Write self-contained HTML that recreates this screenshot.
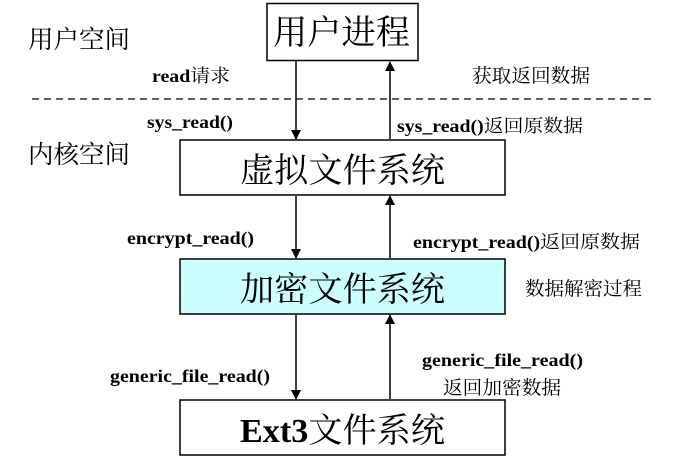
<!DOCTYPE html>
<html><head><meta charset="utf-8"><style>
html,body{margin:0;padding:0;background:#fff;}
svg{display:block;}
text{font-family:"Liberation Serif","Noto Serif CJK SC",serif;fill:#000;}
.s{font-size:18px;font-weight:bold;}
.c{font-size:19px;}
.big{font-size:34px;}
.sp{font-size:25px;}
</style></head><body>
<svg width="695" height="460" viewBox="0 0 695 460">
<defs><marker id="a" markerWidth="10" markerHeight="16" refX="9" refY="5" orient="auto" markerUnits="userSpaceOnUse"><path d="M0,0 L14,5 L0,10 z" transform="scale(0.7,1)" fill="#000"/></marker></defs>
<line x1="32" y1="99" x2="652" y2="99" stroke="#000" stroke-width="1.2" stroke-dasharray="7,5"/>
<rect x="267" y="3.5" width="151" height="57" fill="#fff" stroke="#000" stroke-width="1.5"/>
<rect x="180" y="140" width="325" height="55" fill="#fff" stroke="#000" stroke-width="1.5"/>
<rect x="180" y="259" width="325" height="55" fill="#ccffff" stroke="#000" stroke-width="1.5"/>
<rect x="180" y="400" width="325" height="55" fill="#fff" stroke="#000" stroke-width="1.5"/>
<g stroke="#000" stroke-width="1.5">
<line x1="296" y1="61" x2="296" y2="139" marker-end="url(#a)"/>
<line x1="390" y1="139" x2="390" y2="62" marker-end="url(#a)"/>
<line x1="296" y1="196" x2="296" y2="258" marker-end="url(#a)"/>
<line x1="390" y1="258" x2="390" y2="196" marker-end="url(#a)"/>
<line x1="296" y1="315" x2="296" y2="399" marker-end="url(#a)"/>
<line x1="390" y1="399" x2="390" y2="315" marker-end="url(#a)"/>
</g>
<text class="big" x="273" y="44" textLength="137" lengthAdjust="spacingAndGlyphs">用户进程</text>
<text class="big" x="240" y="182" textLength="205" lengthAdjust="spacingAndGlyphs">虚拟文件系统</text>
<text class="big" x="240" y="301" textLength="205" lengthAdjust="spacingAndGlyphs">加密文件系统</text>
<text class="big" x="240" y="442" textLength="205" lengthAdjust="spacingAndGlyphs"><tspan font-weight="bold">Ext3</tspan>文件系统</text>
<text class="sp" x="28" y="48" textLength="102" lengthAdjust="spacingAndGlyphs">用户空间</text>
<text class="sp" x="28" y="163" textLength="102" lengthAdjust="spacingAndGlyphs">内核空间</text>
<text class="s" x="152" y="82" textLength="78" lengthAdjust="spacingAndGlyphs">read<tspan font-weight="normal">请求</tspan></text>
<text class="c" x="472" y="82" textLength="118" lengthAdjust="spacingAndGlyphs">获取返回数据</text>
<text class="s" x="147" y="128" textLength="86" lengthAdjust="spacingAndGlyphs">sys_read()</text>
<text class="s" x="397" y="132" textLength="186" lengthAdjust="spacingAndGlyphs">sys_read()<tspan font-weight="normal">返回原数据</tspan></text>
<text class="s" x="127" y="244" textLength="127" lengthAdjust="spacingAndGlyphs">encrypt_read()</text>
<text class="s" x="413" y="248" textLength="227" lengthAdjust="spacingAndGlyphs">encrypt_read()<tspan font-weight="normal">返回原数据</tspan></text>
<text class="c" x="525" y="295" textLength="117" lengthAdjust="spacingAndGlyphs">数据解密过程</text>
<text class="s" x="110" y="382" textLength="160" lengthAdjust="spacingAndGlyphs">generic_file_read()</text>
<text class="s" x="422" y="366" textLength="161" lengthAdjust="spacingAndGlyphs">generic_file_read()</text>
<text class="c" x="443" y="394" textLength="118" lengthAdjust="spacingAndGlyphs">返回加密数据</text>
</svg>
</body></html>
